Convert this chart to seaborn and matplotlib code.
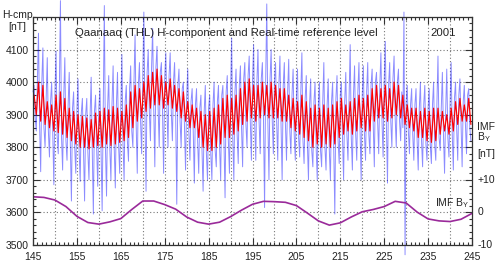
import numpy as np
import matplotlib
matplotlib.use("Agg")
import matplotlib.pyplot as plt
import seaborn as sns
from matplotlib.ticker import MultipleLocator

# days of year shown
days = np.arange(145, 245)

# red reference level: daily max / min (nT)
red_max = [3960, 4000, 3990, 3940, 3930, 3960, 3970, 3950, 3920, 3910,
           3900, 3895, 3890, 3885, 3905, 3910, 3920, 3915, 3925, 3920,
           3910, 3930, 3970, 3990, 3980, 4000, 4020, 4030, 4040, 4020,
           4000, 4010, 3990, 3980, 3970, 3940, 3930, 3920, 3910, 3900,
           3910, 3920, 3930, 3950, 3960, 3950, 3960, 3980, 4000, 4010,
           3990, 3990, 4000, 3990, 4000, 3990, 3980, 3980, 3960, 3950,
           3940, 3960, 3940, 3920, 3930, 3920, 3930, 3920, 3930, 3940,
           3950, 3930, 3940, 3950, 3960, 3950, 3960, 3980, 3990, 3980,
           3990, 3980, 4000, 3990, 3960, 3930, 3920, 3920, 3910, 3920,
           3910, 3920, 3920, 3910, 3900, 3920, 3940, 3950, 3930, 3950]
red_min = [3900, 3880, 3870, 3860, 3850, 3845, 3840, 3830, 3820, 3810,
           3800, 3800, 3795, 3800, 3805, 3800, 3810, 3805, 3810, 3815,
           3820, 3830, 3860, 3880, 3890, 3910, 3920, 3930, 3930, 3920,
           3930, 3920, 3910, 3890, 3880, 3860, 3860, 3830, 3800, 3790,
           3790, 3800, 3810, 3830, 3830, 3840, 3850, 3870, 3880, 3890,
           3880, 3890, 3900, 3890, 3890, 3890, 3880, 3880, 3860, 3850,
           3840, 3830, 3820, 3800, 3810, 3800, 3810, 3800, 3810, 3830,
           3840, 3850, 3840, 3850, 3860, 3850, 3850, 3880, 3890, 3890,
           3880, 3890, 3900, 3890, 3870, 3860, 3850, 3830, 3830, 3820,
           3815, 3820, 3840, 3850, 3840, 3850, 3870, 3880, 3880, 3870]

# blue H-component: four readings per day (nT)
blue_h = [
    3970, 3990, 3890, 3850,  4000, 4150, 3870, 3725,  3995, 4105, 3860, 3800,  3950, 4075, 3850, 3770,  3940, 4000, 3840, 3685,
    3965, 4095, 3835, 3780,  3975, 4250, 3830, 3730,  3955, 4075, 3820, 3760,  3930, 4030, 3810, 3635,  3920, 3970, 3800, 3720,
    3910, 4010, 3790, 3695,  3905, 3950, 3790, 3635,  3900, 3950, 3785, 3700,  3895, 4015, 3790, 3595,  3910, 3960, 3795, 3680,
    3920, 3980, 3790, 3605,  3930, 4235, 3800, 3650,  3925, 4020, 3795, 3700,  3935, 4050, 3800, 3675,  3930, 4030, 3805, 3720,
    3920, 4085, 3810, 3700,  3940, 3990, 3820, 3757,  3980, 4050, 3850, 3800,  4000, 4145, 3870, 3720,  3990, 4060, 3880, 3780,
    4010, 4215, 3900, 3665,  4030, 4100, 3910, 3820,  4040, 4165, 3920, 3740,  4045, 4110, 3920, 3800,  4030, 4060, 3910, 3720,
    4010, 4090, 3920, 3800,  4020, 4090, 3910, 3820,  4000, 4060, 3900, 3625,  3990, 4040, 3880, 3800,  3980, 4000, 3870, 3730,
    3950, 4040, 3850, 3760,  3940, 3980, 3850, 3690,  3930, 3980, 3820, 3720,  3920, 3960, 3790, 3665,  3910, 3990, 3780, 3700,
    3920, 3960, 3780, 3700,  3930, 4000, 3790, 3740,  3940, 3990, 3800, 3700,  3960, 3990, 3820, 3645,  3970, 4020, 3820, 3720,
    3960, 4135, 3830, 3700,  3970, 4040, 3840, 3750,  3990, 4050, 3860, 3740,  4010, 4060, 3870, 3800,  4020, 4080, 3880, 3760,
    4000, 4115, 3870, 3760,  4000, 4100, 3880, 3780,  4010, 4060, 3890, 3615,  4000, 4240, 3880, 3700,  4010, 4100, 3880, 3780,
    4000, 4060, 3880, 3760,  3990, 4080, 3870, 3700,  3990, 4060, 3870, 3760,  3970, 4070, 3850, 3780,  3960, 4040, 3840, 3760,
    3950, 4040, 3830, 3770,  3970, 4090, 3820, 3750,  3950, 4020, 3810, 3700,  3930, 4010, 3790, 3740,  3940, 4000, 3800, 3700,
    3930, 4000, 3790, 3740,  3940, 4060, 3800, 3730,  3930, 4010, 3790, 3700,  3940, 4000, 3800, 3595,  3950, 4020, 3820, 3750,
    3960, 4000, 3830, 3700,  3940, 4030, 3840, 3760,  3950, 4115, 3830, 3730,  3960, 4050, 3840, 3760,  3970, 4060, 3850, 3700,
    3960, 4050, 3840, 3760,  3970, 4060, 3840, 3780,  3990, 4040, 3870, 3740,  4000, 4030, 3880, 3780,  3990, 4090, 3880, 3770,
    4000, 4125, 3870, 3690,  3990, 4060, 3880, 3800,  4010, 4080, 3890, 3800,  4000, 4040, 3880, 3820,  3970, 3860, 4215, 3470,
    3940, 3990, 3850, 3780,  3930, 3980, 3840, 3760,  3930, 3980, 3820, 3730,  3920, 4000, 3820, 3740,  3930, 3990, 3810, 3760,
    3920, 3980, 3805, 3750,  3930, 4000, 3810, 3760,  3930, 4080, 3830, 3790,  3920, 4030, 3840, 3720,  3910, 4040, 3830, 3770,
    3930, 4060, 3840, 3730,  3950, 4000, 3860, 3760,  3960, 4010, 3870, 3740,  3940, 3990, 3870, 3780,  3960, 3980, 3860, 3820,
]

# IMF By every 2.5 days (nT)
imf_days = np.arange(145, 245.1, 2.5)
imf_by = [4.8, 4.6, 3.8, 1.8, -1.2, -3.1, -3.6, -2.9, -1.9, 0.9,
          3.5, 3.5, 2.4, 1.0, -1.4, -3.0, -3.6, -3.0, -1.3, 0.7,
          2.5, 3.4, 3.3, 3.1, 2.1, -0.2, -2.6, -3.9, -3.2, -1.4,
          0.2, 0.9, 1.8, 3.4, 2.9, 0.1, -2.0, -2.6, -2.8, -2.1, -0.3]

sns.set_style("ticks")
plt.rcParams['font.family'] = ['Liberation Sans', 'DejaVu Sans']
plt.rcParams['mathtext.fontset'] = 'custom'
plt.rcParams['mathtext.rm'] = 'Liberation Sans'
plt.rcParams['mathtext.it'] = 'Liberation Sans'
tc = '#222222'

fig = plt.figure(figsize=(5, 2.65), dpi=100)
ax = fig.add_axes([0.066, 0.0755, 0.878, 0.8605])

bx = np.repeat(days, 4) + np.tile([0.0, 0.25, 0.5, 0.75], len(days))
rx = np.repeat(days, 2) + np.tile([0.25, 0.75], len(days))
ry = np.ravel(np.column_stack([red_max, red_min]))

sns.lineplot(x=bx, y=blue_h, ax=ax, color='blue', alpha=0.45, lw=0.7, clip_on=False)
sns.lineplot(x=rx, y=ry, ax=ax, color='red', lw=0.85)
sns.lineplot(x=imf_days, y=3600 + 10 * np.array(imf_by), ax=ax, color='#9a2a9a', lw=1.2)

ax.set_xlim(145, 245)
ax.set_ylim(3500, 4200)
ax.set_xticks(np.arange(145, 246, 10))
ax.xaxis.set_minor_locator(MultipleLocator(1))
ax.set_yticks(np.arange(3500, 4101, 100))
ax.yaxis.set_minor_locator(MultipleLocator(20))
ax.tick_params(which='both', direction='in', top=True, right=True,
               labelsize=7.5, labelcolor=tc, color='#333333', width=0.8)
ax.tick_params(which='major', length=5, pad=3)
ax.tick_params(which='minor', length=2.5)
ax.tick_params(axis='x', pad=5)
for s in ax.spines.values():
    s.set_color('#333333')
    s.set_linewidth(0.9)

for gx in np.arange(150, 245, 5):
    ax.axvline(gx, color='#777777', ls=(0, (1, 2)), lw=0.8, zorder=0)
for gy in np.arange(3600, 4200, 100):
    ax.axhline(gy, color='#777777', ls=(0, (1, 2)), lw=0.8, zorder=0)

ax.set_xlabel('')
ax.set_ylabel('')

ax.text(154.5, 4150, 'Qaanaaq (THL) H-component and Real-time reference level',
        fontsize=8.2, color=tc, va='center', ha='left')
ax.text(235.5, 4150, '2001', fontsize=8.2, color=tc, va='center', ha='left')
ax.text(236.5, 3630, 'IMF B$_Y$', fontsize=7.5, color=tc, va='center', ha='left')

fig.text(0.035, 0.942, 'H-cmp', fontsize=7.5, color=tc, ha='center', va='center')
fig.text(0.035, 0.897, '[nT]', fontsize=7.5, color=tc, ha='center', va='center')

# right-hand IMF scale
for val, lab in [(3700, '+10'), (3600, '0'), (3500, '-10')]:
    ax.text(1.012, (val - 3500) / 700, lab, transform=ax.transAxes,
            fontsize=7.5, color=tc, ha='left', va='center')
ax.text(1.012, (3862 - 3500) / 700, 'IMF', transform=ax.transAxes,
        fontsize=7.5, color=tc, ha='left', va='center')
ax.text(1.012, (3830 - 3500) / 700, 'B$_Y$', transform=ax.transAxes,
        fontsize=7.5, color=tc, ha='left', va='center')
ax.text(1.012, (3780 - 3500) / 700, '[nT]', transform=ax.transAxes,
        fontsize=7.5, color=tc, ha='left', va='center')

fig.savefig('out.png', dpi=100)
